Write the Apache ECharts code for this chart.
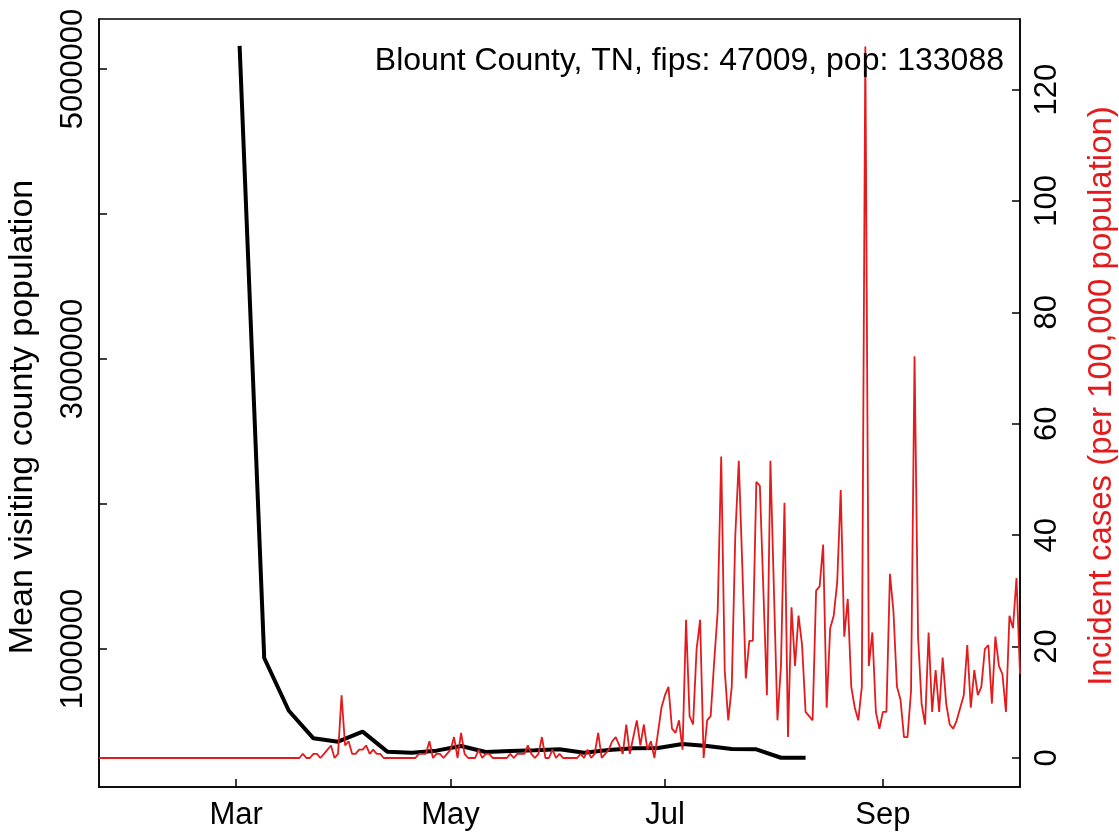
<!DOCTYPE html>
<html>
<head>
<meta charset="utf-8">
<script src="https://cdn.jsdelivr.net/npm/echarts@6/dist/echarts.min.js"></script>
<style>
html,body{margin:0;padding:0;background:#fff;}
#chart{width:1119px;height:832px;}
</style>
</head>
<body>
<div id="chart"></div>
<script>
// Weekly mean visiting county population (black line)
const mobilityDates = ['2020-03-02','2020-03-09','2020-03-16','2020-03-23','2020-03-30','2020-04-06','2020-04-13','2020-04-20','2020-04-27','2020-05-04','2020-05-11','2020-05-18','2020-05-25','2020-06-01','2020-06-08','2020-06-15','2020-06-22','2020-06-29','2020-07-06','2020-07-13','2020-07-20','2020-07-27','2020-08-03','2020-08-10'];
const mobilityValues = [5159000, 938000, 574000, 384000, 361000, 430000, 292000, 285000, 299000, 331000, 290000, 297000, 301000, 308000, 285000, 303000, 315000, 317000, 345000, 331000, 310000, 308000, 250000, 250000];

// Daily incident cases per 100,000 population, starting 2020-01-22 (red line)
const caseStart = [2020, 0, 22];
const casesPer100k = [
  0,0,0,0,0,0,0,0,0,0, 0,0,0,0,0,0,0,0,0,0,
  0,0,0,0,0,0,0,0,0,0, 0,0,0,0,0,0,0,0,0,0,
  0,0,0,0,0,0,0,0,0,0, 0,0,0,0,0,0,0,0,
  0.75,0,0,0.75,0.75,0,0.75,1.50,2.25,0,0.75,11.27,2.25,3.01,0.75,0.75,1.50,1.50,2.25,0.75,1.50,0.75,0.75,
  0,0,0,0,0,0,0,0,0,0,
  0.75,0.75,0.75,3.01,0,0.75,0.75,0,0.75,1.50,3.76,0,4.51,0.75,0,0,0,1.50,0,0.75,0.75,
  0,0,0,0,0,0.75,0,0.75,0.75,0.75,2.25,0.75,0,0.75,3.76,0,0,1.50,0,0.75,0,0,0,0,0,0.75,0,1.50,0,0.75,
  4.51,0,0.75,1.50,3.01,3.76,2.25,0.75,6.01,0.75,3.76,6.76,2.25,6.01,1.50,3.01,0,4.51,9.02,11.27,
  12.77,5.26,4.51,6.76,1.50,24.80,7.51,6.01,19.54,24.80,0,6.76,7.51,17.28,26.30,54.10,15.78,6.76,12.77,39.82,
  53.35,34.56,14.28,21.04,21.04,49.59,48.84,30.06,11.27,53.35,30.06,6.76,16.53,45.83,3.76,27.05,16.53,25.55,20.29,8.27,
  7.51,6.76,30.06,30.81,38.32,9.02,23.29,25.55,31.56,48.09,21.79,28.55,12.77,9.02,6.76,12.77,127.73,16.53,22.54,8.27,
  5.26,8.27,8.27,33.06,26.30,12.77,10.52,3.76,3.76,12.02,72.13,21.79,9.77,6.01,22.54,8.27,15.78,8.27,18.03,9.77,
  6.01,5.26,6.76,9.02,11.27,20.29,9.02,15.78,11.27,12.77,19.54,20.29,9.77,21.79,16.53,15.03,8.27,25.55,23.29,32.31,
  15.03
];

// Axis ticks and labels
const monthTicks = ['2020-03-01','2020-05-01','2020-07-01','2020-09-01'];
const monthLabels = ['Mar','May','Jul','Sep'];
const xRange = ['2020-01-22','2020-10-10'];
const leftTicks = [1000000, 2000000, 3000000, 4000000, 5000000];
const leftLabels = [1000000, 3000000, 5000000];
const rightTicks = [0, 20, 40, 60, 80, 100, 120];
const titleText = 'Blount County, TN, fips: 47009, pop: 133088';

function toTime(s){ const p = s.split('-').map(Number); return Date.UTC(p[0], p[1]-1, p[2]); }

const caseData = casesPer100k.map((v, i) => [Date.UTC(caseStart[0], caseStart[1], caseStart[2] + i), v]);
const mobData = mobilityDates.map((d, i) => [toTime(d), mobilityValues[i]]);
const monthTickTimes = monthTicks.map(toTime);

const FONT = 'Liberation Sans, Arial, Helvetica, sans-serif';
const FS = 31;
const chart = echarts.init(document.getElementById('chart'), null, {renderer: 'canvas'});
chart.setOption({
  animation: false,
  backgroundColor: '#ffffff',
  title: {
    text: titleText, right: 110, top: 40,
    textStyle: {fontFamily: FONT, fontSize: 32, fontWeight: 'normal', color: '#000'}
  },
  grid: {left: 99, right: 99, top: 19, bottom: 45, outerBoundsMode: 'none', containLabel: false,
         show: true, borderColor: '#000', borderWidth: 1.5, backgroundColor: 'transparent'},
  xAxis: {
    type: 'value',
    min: toTime(xRange[0]), max: toTime(xRange[1]),
    axisLine: {show: true, onZero: false, lineStyle: {color: '#000', width: 1.5}},
    axisTick: {show: true, inside: true, length: 8, lineStyle: {color: '#000', width: 1.5}, customValues: monthTickTimes},
    axisLabel: {
      customValues: monthTickTimes, margin: 13,
      fontFamily: FONT, fontSize: FS, color: '#000',
      formatter: function(v){ const i = monthTickTimes.indexOf(v); return i >= 0 ? monthLabels[i] : ''; }
    },
    splitLine: {show: false}
  },
  yAxis: [{
    type: 'value', position: 'left',
    min: 48300, max: 5344800,
    name: 'Mean visiting county population', nameLocation: 'middle', nameRotate: 90, nameGap: 59,
    nameTextStyle: {fontFamily: FONT, fontSize: 34, color: '#000', padding: [0, 28, 0, 0]},
    axisLine: {show: true, onZero: false, lineStyle: {color: '#000', width: 1.5}},
    axisTick: {show: true, inside: true, length: 8, lineStyle: {color: '#000', width: 1.5}, customValues: leftTicks},
    axisLabel: {customValues: leftLabels, rotate: 90, margin: 10, fontFamily: FONT, fontSize: FS, color: '#000',
                formatter: function(v){ return String(Math.round(v)); }},
    splitLine: {show: false}
  }, {
    type: 'value', position: 'right',
    min: -5.206, max: 132.66,
    name: 'Incident cases (per 100,000 population)', nameLocation: 'middle', nameRotate: 90, nameGap: 65,
    nameTextStyle: {fontFamily: FONT, fontSize: 33, color: '#E41A1C', padding: [0, 0, 0, 14]},
    axisLine: {show: true, onZero: false, lineStyle: {color: '#000', width: 1.5}},
    axisTick: {show: true, inside: true, length: 8, lineStyle: {color: '#000', width: 1.5}, customValues: rightTicks},
    axisLabel: {customValues: rightTicks, rotate: 90, margin: 12, fontFamily: FONT, fontSize: FS, color: '#000',
                formatter: function(v){ return String(Math.round(v)); }},
    splitLine: {show: false}
  }],
  series: [{
    name: 'mobility', type: 'line', yAxisIndex: 0, data: mobData,
    showSymbol: false, lineStyle: {color: '#000', width: 4}, z: 2
  }, {
    name: 'cases', type: 'line', yAxisIndex: 1, data: caseData,
    showSymbol: false, lineStyle: {color: '#E41A1C', width: 1.8}, z: 3
  }]
});
</script>
</body>
</html>
